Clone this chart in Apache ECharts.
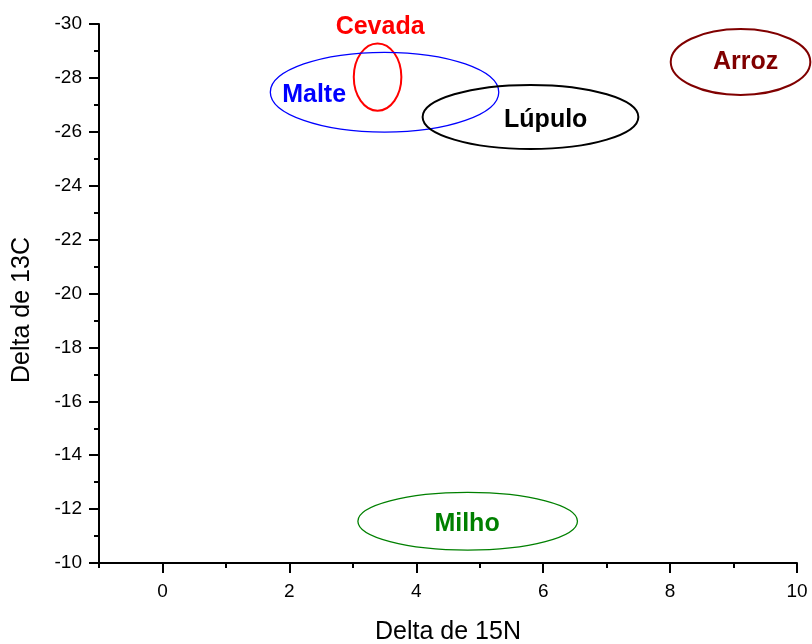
<!DOCTYPE html>
<html>
<head>
<meta charset="utf-8">
<script src="https://cdn.jsdelivr.net/npm/echarts@6/dist/echarts.min.js"></script>
<style>
  html, body { margin: 0; padding: 0; background: #fff; }
  #main { width: 812px; height: 644px; }
</style>
</head>
<body>
<div id="main"></div>
<script>
// groups drawn as ellipses (centre and half-widths in axis units)
var groupNames = ['Cevada', 'Malte', 'Lúpulo', 'Arroz', 'Milho'];
var centerX = [3.39, 3.50, 5.80, 9.11, 4.81];
var centerY = [-28.03, -27.47, -26.55, -28.59, -11.55];
var radiusX = [0.375, 1.80, 1.70, 1.10, 1.73];
var radiusY = [1.25, 1.48, 1.19, 1.22, 1.07];
var labelX = [3.43, 2.39, 6.04, 9.19, 4.80];
var labelY = [-29.9, -27.37, -26.42, -28.6, -11.43];

var xMajorTicks = [0, 2, 4, 6, 8, 10];
var xMinorTicks = [-1, 1, 3, 5, 7, 9];

var groupColors = ['#ff0000', '#0000ff', '#000000', '#800000', '#008000'];
var lineWidths = [2, 1.3, 2, 2, 1.3];

var font = 'Arial, "Liberation Sans", sans-serif';

var items = groupNames.map(function (n, i) {
    return [centerX[i], centerY[i], radiusX[i], radiusY[i], labelX[i], labelY[i]];
});

echarts.init(document.getElementById('main')).setOption({
    animation: false,
    grid: { left: 99, right: 15, top: 24, bottom: 81, outerBoundsMode: 'none' },
    xAxis: [{
        type: 'value',
        min: -1,
        max: 10,
        name: 'Delta de 15N',
        nameLocation: 'middle',
        nameGap: 57,
        nameTextStyle: { fontFamily: font, fontSize: 25, color: '#000' },
        axisLine: { onZero: false, lineStyle: { color: '#000', width: 2 } },
        axisTick: { customValues: xMajorTicks, length: 10, lineStyle: { color: '#000', width: 2 } },
        axisLabel: { customValues: xMajorTicks, margin: 19, fontFamily: font, fontSize: 19, color: '#000' },
        splitLine: { show: false }
    }, {
        type: 'value',
        min: -1,
        max: 10,
        position: 'bottom',
        axisLine: { show: false, onZero: false },
        axisTick: { customValues: xMinorTicks, length: 5, lineStyle: { color: '#000', width: 2 } },
        axisLabel: { show: false },
        splitLine: { show: false }
    }],
    yAxis: {
        type: 'value',
        inverse: true,
        min: -30,
        max: -10,
        interval: 2,
        name: 'Delta de 13C',
        nameLocation: 'middle',
        nameRotate: 90,
        nameGap: 64,
        nameTextStyle: { fontFamily: font, fontSize: 25, color: '#000', padding: [0, 33, 0, 0] },
        axisLine: { onZero: false, lineStyle: { color: '#000', width: 2 } },
        axisTick: { length: 10, lineStyle: { color: '#000', width: 2 } },
        minorTick: { show: true, splitNumber: 2, length: 5, lineStyle: { color: '#000', width: 2 } },
        axisLabel: { margin: 17, fontFamily: font, fontSize: 19, color: '#000' },
        splitLine: { show: false }
    },
    series: [{
        type: 'custom',
        clip: false,
        data: items,
        renderItem: function (params, api) {
            var i = params.dataIndex;
            var c = api.coord([api.value(0), api.value(1)]);
            var s = api.size([api.value(2), api.value(3)]);
            var l = api.coord([api.value(4), api.value(5)]);
            return {
                type: 'group',
                children: [{
                    type: 'ellipse',
                    shape: { cx: c[0], cy: c[1], rx: s[0], ry: s[1] },
                    style: { fill: 'none', stroke: groupColors[i], lineWidth: lineWidths[i] }
                }, {
                    type: 'text',
                    x: l[0],
                    y: l[1],
                    style: {
                        text: groupNames[i],
                        fill: groupColors[i],
                        font: 'bold 25px ' + font,
                        align: 'center',
                        verticalAlign: 'middle'
                    }
                }]
            };
        }
    }]
});
</script>
</body>
</html>
